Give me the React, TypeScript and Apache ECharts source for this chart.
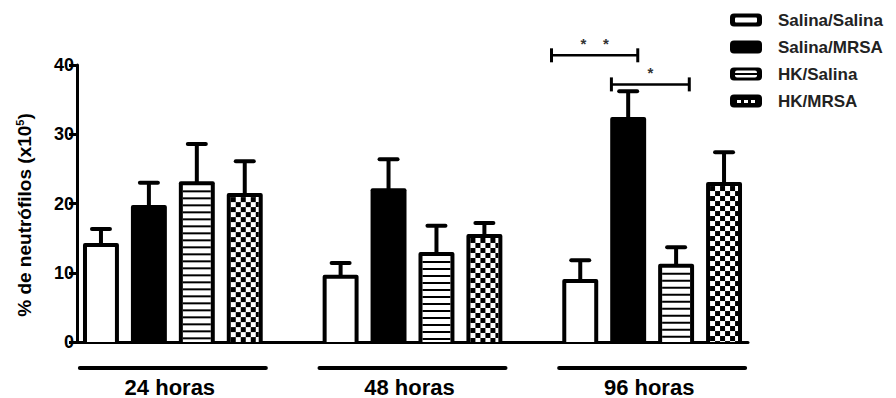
import React, { useEffect, useRef } from "react";
import * as echarts from "echarts";

// Time points and experimental groups
const CATEGORIES = ["24 horas", "48 horas", "96 horas"];
const GROUP_NAMES = ["Salina/Salina", "Salina/MRSA", "HK/Salina", "HK/MRSA"];

// Mean neutrophil percentage (x10^5) per time point
const salinaSalina = [14.3, 9.7, 9.1];
const salinaMRSA = [19.8, 22.2, 32.5];
const hkSalina = [23.2, 13.0, 11.3];
const hkMRSA = [21.5, 15.6, 23.1];

// Standard error (upper whisker only)
const salinaSalinaErr = [2.0, 1.7, 2.7];
const salinaMRSAErr = [3.2, 4.2, 3.7];
const hkSalinaErr = [5.4, 3.8, 2.4];
const hkMRSAErr = [4.6, 1.6, 4.3];

// Y axis ticks
const Y_MIN = 0;
const Y_MAX = 40;
const Y_STEP = 10;

// Significance brackets at 96 h: [x start, x end, y level] in axis units, label
const SIG_BRACKETS: [number, number, number, string][] = [
  [1.58, 1.94, 41.4, "*    *"],
  [1.83, 2.155, 37.2, "*"],
];

const FONT = "'Liberation Sans', Arial, sans-serif";
const INK = "#000";

const SERIES_VALUES = [salinaSalina, salinaMRSA, hkSalina, hkMRSA];
const SERIES_ERRORS = [salinaSalinaErr, salinaMRSAErr, hkSalinaErr, hkMRSAErr];

const GROUP_SPACING = 0.2; // distance between bars inside a time point, axis units
const BAR_WIDTH = 0.15; // outer bar width, axis units
const BORDER = 4;

function fillChildren(kind: number, x: number, y: number, w: number, h: number) {
  const kids: any[] = [];
  if (kind === 1) {
    kids.push({ type: "rect", shape: { x, y, width: w, height: h }, style: { fill: INK } });
    return kids;
  }
  kids.push({ type: "rect", shape: { x, y, width: w, height: h }, style: { fill: "#fff" } });
  if (kind === 2) {
    // horizontal stripes
    for (let yy = y + 5; yy < y + h; yy += 7) {
      kids.push({
        type: "rect",
        shape: { x, y: yy, width: w, height: 2 },
        style: { fill: INK },
      });
    }
  } else if (kind === 3) {
    // checkerboard
    const c = 5;
    let row = 0;
    for (let yy = y; yy < y + h; yy += c, row++) {
      let col = 0;
      for (let xx = x; xx < x + w; xx += c, col++) {
        if ((row + col) % 2 === 0) {
          kids.push({
            type: "rect",
            shape: {
              x: xx,
              y: yy,
              width: Math.min(c, x + w - xx),
              height: Math.min(c, y + h - yy),
            },
            style: { fill: INK },
          });
        }
      }
    }
  }
  return kids;
}

function makeBarRenderer(seriesIdx: number) {
  return (params: any, api: any) => {
    const cat = api.value(0);
    const val = api.value(1);
    const err = api.value(2);
    const unit = api.size([1, 0])[0];
    const [cx0, base] = api.coord([cat, 0]);
    const cx = cx0 + (seriesIdx - 1.5) * GROUP_SPACING * unit;
    const w = BAR_WIDTH * unit;
    const top = api.coord([cat, val])[1];
    const capY = api.coord([cat, val + err])[1];
    const x = cx - w / 2;
    const children: any[] = [
      {
        type: "line",
        shape: { x1: cx, y1: top + 2, x2: cx, y2: capY },
        style: { stroke: INK, lineWidth: 4 },
      },
      {
        type: "line",
        shape: { x1: cx - 9, y1: capY, x2: cx + 9, y2: capY },
        style: { stroke: INK, lineWidth: 4, lineCap: "round" },
      },
      {
        type: "rect",
        shape: { x, y: top, width: w, height: base - top, r: [2, 2, 0, 0] },
        style: { fill: INK },
      },
      ...fillChildren(
        seriesIdx,
        x + BORDER,
        top + BORDER,
        w - 2 * BORDER,
        base - top - BORDER
      ),
    ];
    return { type: "group", children };
  };
}

function renderGroupLabel(params: any, api: any) {
  const cat = api.value(0);
  const [cx, base] = api.coord([cat, 0]);
  return {
    type: "group",
    children: [
      {
        type: "line",
        shape: { x1: cx - 93, y1: base + 26, x2: cx + 93, y2: base + 26 },
        style: { stroke: INK, lineWidth: 4, lineCap: "round" },
      },
      {
        type: "text",
        x: cx - 3,
        y: base + 45,
        style: {
          text: CATEGORIES[cat],
          fill: INK,
          font: `bold 22px ${FONT}`,
          align: "center",
          verticalAlign: "middle",
        },
      },
    ],
  };
}

function renderBracket(params: any, api: any) {
  const x1 = api.coord([api.value(0), 0])[0];
  const x2 = api.coord([api.value(1), 0])[0];
  const y = api.coord([0, api.value(2)])[1];
  const label = SIG_BRACKETS[params.dataIndex][3];
  return {
    type: "group",
    children: [
      { type: "line", shape: { x1, y1: y, x2, y2: y }, style: { stroke: INK, lineWidth: 2.5 } },
      { type: "line", shape: { x1, y1: y - 7, x2: x1, y2: y + 7 }, style: { stroke: INK, lineWidth: 3 } },
      { type: "line", shape: { x1: x2, y1: y - 7, x2, y2: y + 7 }, style: { stroke: INK, lineWidth: 3 } },
      {
        type: "text",
        x: (x1 + x2) / 2,
        y: y - 12,
        style: {
          text: label,
          fill: "#333",
          font: `bold 15px ${FONT}`,
          align: "center",
          verticalAlign: "middle",
        },
      },
    ],
  };
}

function legendIcon(kind: number, x: number, y: number): any {
  const w = 32;
  const h = 13;
  const base = {
    type: "rect",
    shape: { x, y: y - h / 2, width: w, height: h, r: 4 },
    style: { fill: INK },
  };
  const kids: any[] = [base];
  if (kind === 0) {
    kids.push({
      type: "rect",
      shape: { x: x + 5, y: y - h / 2 + 4, width: w - 10, height: h - 8, r: 1 },
      style: { fill: "#fff" },
    });
  } else if (kind === 2) {
    kids.push({
      type: "rect",
      shape: { x: x + 5, y: y - h / 2 + 3, width: w - 10, height: h - 6, r: 2 },
      style: { fill: "#fff" },
    });
    kids.push({
      type: "rect",
      shape: { x: x + 5, y: y - 1, width: w - 10, height: 2 },
      style: { fill: INK },
    });
  } else if (kind === 3) {
    for (let i = 0; i < 3; i++) {
      kids.push({
        type: "rect",
        shape: { x: x + 7 + i * 7, y: y - 1, width: 4, height: 3 },
        style: { fill: "#fff" },
      });
    }
  }
  return { type: "group", children: kids };
}

export default function App() {
  const ref = useRef<HTMLDivElement>(null);

  useEffect(() => {
    if (!ref.current) return;
    const chart = echarts.init(ref.current, undefined, { renderer: "svg" });

    const legendX = 730;
    const legendY0 = 20;
    const legendStep = 27;
    const legendGraphics: any[] = [];
    GROUP_NAMES.forEach((name, i) => {
      const y = legendY0 + i * legendStep;
      legendGraphics.push(legendIcon(i, legendX, y));
      legendGraphics.push({
        type: "text",
        x: legendX + 48,
        y,
        style: {
          text: name,
          fill: "#222",
          font: `bold 17px ${FONT}`,
          verticalAlign: "middle",
        },
      });
    });

    const barSeries = SERIES_VALUES.map((vals, s) => ({
      type: "custom",
      name: GROUP_NAMES[s],
      renderItem: makeBarRenderer(s),
      clip: false,
      encode: { x: 0, y: 1 },
      data: CATEGORIES.map((_, i) => [i, vals[i], SERIES_ERRORS[s][i]]),
      z: 3,
    }));

    chart.setOption({
      animation: false,
      backgroundColor: "#fff",
      grid: { left: 77, right: 148, top: 65, bottom: 56 },
      xAxis: {
        type: "value",
        min: -0.4,
        max: 2.4,
        axisLine: { show: true, onZero: false, lineStyle: { color: INK, width: 3 } },
        axisTick: { show: false },
        axisLabel: { show: false },
        splitLine: { show: false },
      },
      yAxis: {
        type: "value",
        min: Y_MIN,
        max: Y_MAX,
        interval: Y_STEP,
        axisLine: { show: true, onZero: false, lineStyle: { color: INK, width: 3 } },
        axisTick: { show: true, length: 8, lineStyle: { color: INK, width: 3 } },
        axisLabel: {
          color: INK,
          fontFamily: FONT,
          fontWeight: "bold",
          fontSize: 18,
          margin: 3,
        },
        splitLine: { show: false },
      },
      graphic: [
        {
          type: "text",
          x: 24,
          y: 215,
          rotation: Math.PI / 2,
          style: {
            text: "% de neutrófilos (x10{sup|5})",
            fill: INK,
            font: `bold 19px ${FONT}`,
            align: "center",
            verticalAlign: "middle",
            rich: {
              sup: {
                fontFamily: FONT,
                fontWeight: "bold",
                fontSize: 11,
                verticalAlign: "top",
                padding: [0, 0, 8, 0],
              },
            },
          },
        },
        ...legendGraphics,
      ],
      series: [
        ...barSeries,
        {
          type: "custom",
          name: "tempo",
          renderItem: renderGroupLabel,
          clip: false,
          encode: { x: 0, y: 1 },
          data: CATEGORIES.map((_, i) => [i, 0]),
        },
        {
          type: "custom",
          name: "significancia",
          renderItem: renderBracket,
          clip: false,
          encode: { x: [0, 1], y: 2 },
          data: SIG_BRACKETS.map((b) => [b[0], b[1], b[2]]),
        },
      ],
    });

    return () => chart.dispose();
  }, []);

  return (
    <div
      ref={ref}
      style={{ position: "absolute", left: 0, top: 0, width: 896, height: 398 }}
    />
  );
}
